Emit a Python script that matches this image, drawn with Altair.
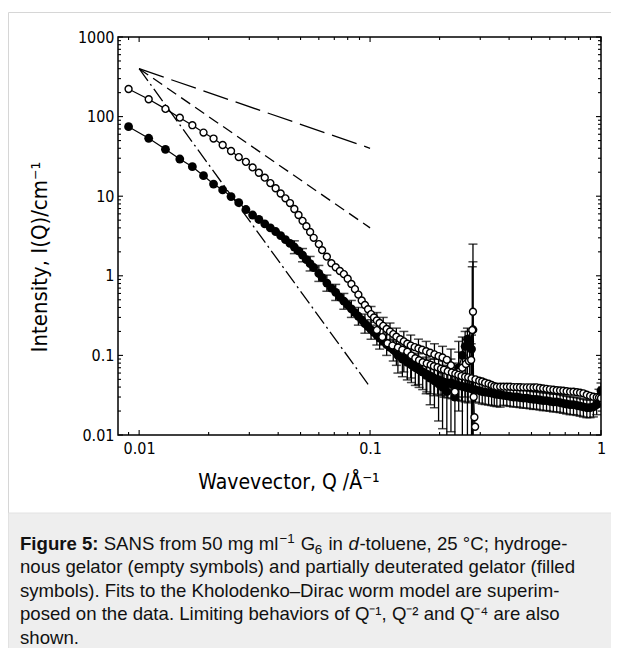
import altair as alt
import pandas as pd

# ---------------- data ----------------
# hydrogenous gelator, low-Q configuration (empty symbols)
open_lo_q = [0.009,0.011,0.013,0.015,0.017,0.019,0.021,0.023,0.025,0.027,
             0.029,0.031,0.033,0.035,0.037,0.039,0.041,0.043,0.045,0.047,
             0.049,0.051,0.053,0.055,0.057,0.060,0.062,0.065,0.068,0.071,
             0.074,0.077,0.080,0.083,0.086,0.089,0.092,0.095,0.098,0.101,
             0.104,0.107,0.110,0.114,0.118,0.122,0.126,0.130,0.135,0.140,
             0.145,0.150,0.156,0.162,0.168,0.175,0.182,0.190,0.198,0.206,
             0.215,0.224,0.233,0.242,0.251,0.260,0.268,0.274,0.277,0.279,
             0.281,0.283,0.285]
open_lo_i = [222,165,125,97,78,63,53,44,37,31,
             27,23,19.7,17.1,14.6,12.6,10.8,9.4,8.2,6.9,
             5.8,4.9,4.2,3.55,3.0,2.5,2.1,1.74,1.44,1.28,
             1.15,1.05,0.92,0.79,0.68,0.58,0.49,0.43,0.38,0.33,
             0.30,0.275,0.255,0.235,0.215,0.2,0.185,0.172,0.16,0.15,
             0.14,0.133,0.127,0.122,0.118,0.113,0.108,0.103,0.098,0.094,
             0.088,0.075,0.035,0.062,0.07,0.078,0.085,0.0875,0.208,0.354,
             0.03,0.0167,0.0127]
open_err_q = [0.101,0.107,0.114,0.122,0.130,0.140,0.150,0.162,0.175,0.190,0.206,
              0.224,0.242,0.260,0.274,0.277,0.279]
open_err_lo = [0.26,0.215,0.18,0.155,0.13,0.11,0.10,0.09,0.08,0.07,0.06,
               0.04,0.03,0.04,0.04,0.005,0.005]
open_err_hi = [0.41,0.345,0.30,0.255,0.22,0.20,0.18,0.16,0.15,0.14,0.13,
               0.12,0.11,0.13,0.14,1.3,2.5]

# hydrogenous gelator, high-Q configuration (empty symbols)
open_hi_q = [0.107,0.113,0.119,0.125,0.132,0.138,0.145,0.151,0.157,0.163,
             0.169,0.176,0.183,0.189,0.196,0.203,0.209,0.217,0.226,0.234,
             0.241,0.249,0.258,0.266,0.275,0.286,0.297,0.306,0.315,0.326,
             0.336,0.345,0.354,0.366,0.378,0.391,0.404,0.418,0.432,0.446,
             0.461,0.477,0.493,0.510,0.526,0.544,0.562,0.581,0.601,0.622,
             0.643,0.665,0.687,0.710,0.735,0.760,0.786,0.812,0.839,0.868,
             0.897,0.927,0.958,0.980,1.000]
open_hi_i = [0.208,0.170,0.142,0.133,0.126,0.118,0.111,0.100,0.092,0.087,
             0.082,0.079,0.076,0.073,0.071,0.068,0.066,0.063,0.061,0.059,
             0.057,0.055,0.054,0.053,0.0515,0.050,0.048,0.047,0.0454,0.044,
             0.0425,0.041,0.0405,0.0405,0.0405,0.0405,0.0405,0.040,0.040,0.0398,
             0.0397,0.0397,0.0397,0.0395,0.0397,0.039,0.0385,0.038,0.0375,0.037,
             0.0365,0.0362,0.036,0.0355,0.035,0.035,0.0345,0.034,0.0334,0.032,
             0.031,0.0303,0.0298,0.0295,0.029]

# partially deuterated gelator, low-Q configuration (filled symbols)
filled_lo_q = [0.009,0.011,0.013,0.015,0.017,0.019,0.021,0.023,0.025,0.027,
               0.029,0.031,0.033,0.035,0.037,0.039,0.041,0.043,0.045,0.047,
               0.049,0.051,0.053,0.055,0.057,0.060,0.062,0.065,0.068,0.071,
               0.074,0.077,0.080,0.083,0.086,0.089,0.092,0.095,0.098,0.101,
               0.104,0.107,0.110,0.114,0.118,0.122,0.126,0.130,0.135,0.140,
               0.145,0.150,0.156,0.162,0.168,0.175,0.182,0.190,0.198,0.206,
               0.215,0.224,0.233,0.242,0.251,0.258,0.264,0.270,0.275,0.279]
filled_lo_i = [74.7,53.4,38.8,29.3,23.5,18.1,14.2,12.0,9.9,8.3,
               6.8,5.8,5.1,4.5,4.0,3.6,3.2,2.85,2.55,2.3,
               2.05,1.82,1.6,1.42,1.27,1.07,0.95,0.81,0.70,0.62,
               0.54,0.48,0.43,0.385,0.345,0.31,0.28,0.25,0.23,0.21,
               0.195,0.18,0.165,0.15,0.137,0.126,0.117,0.108,0.099,0.092,
               0.086,0.08,0.074,0.068,0.062,0.056,0.052,0.048,0.044,0.040,
               0.035,0.045,0.030,0.070,0.10,0.13,0.16,0.15,0.12,0.21]
filled_err_q = [0.047,0.051,0.055,0.060,0.065,0.071,0.077,0.083,0.089,0.095,0.101,0.107,
                0.110,0.118,0.126,0.130,0.140,0.150,0.162,0.175,0.182,0.190,0.198,0.206,
                0.215,0.224,0.233,0.242,0.251,0.258,0.264,0.270,0.275,0.279]
filled_err_lo = [1.9,1.5,1.15,0.85,0.64,0.49,0.38,0.30,0.24,0.19,0.16,0.135,
                 0.12,0.10,0.085,0.075,0.062,0.052,0.043,0.033,0.024,0.022,0.015,0.012,
                 0.008,0.011,0.005,0.02,0.005,0.03,0.005,0.04,0.005,0.005]
filled_err_hi = [2.75,2.2,1.75,1.35,1.02,0.78,0.60,0.49,0.40,0.33,0.28,0.24,
                 0.22,0.19,0.16,0.15,0.13,0.12,0.105,0.095,0.09,0.09,0.09,0.085,
                 0.075,0.09,0.08,0.15,0.17,0.2,0.22,0.2,0.18,1.5]

# partially deuterated gelator, high-Q configuration (filled symbols)
filled_hi_q = [0.132,0.138,0.145,0.151,0.157,0.163,0.169,0.176,0.183,0.189,
               0.196,0.203,0.209,0.217,0.226,0.234,0.241,0.249,0.258,0.266,
               0.275,0.286,0.297,0.306,0.315,0.326,0.336,0.345,0.354,0.366,
               0.378,0.391,0.404,0.418,0.432,0.446,0.461,0.477,0.493,0.510,
               0.526,0.544,0.562,0.581,0.601,0.622,0.643,0.665,0.687,0.710,
               0.735,0.760,0.786,0.812,0.839,0.868,0.897,0.927,0.958,0.980,1.000]
filled_hi_i = [0.100,0.090,0.082,0.076,0.070,0.066,0.062,0.058,0.055,0.052,
               0.050,0.048,0.046,0.045,0.044,0.043,0.042,0.041,0.040,0.039,
               0.038,0.037,0.036,0.035,0.0345,0.034,0.0335,0.033,0.0325,0.032,
               0.0315,0.031,0.0305,0.030,0.030,0.0295,0.029,0.029,0.0285,0.028,
               0.028,0.0275,0.027,0.027,0.0265,0.026,0.026,0.0255,0.025,0.0245,
               0.024,0.024,0.0235,0.023,0.0225,0.022,0.022,0.0225,0.024,0.030,0.036]
filled_hi_err = [0.4,0.4,0.4,0.4,0.4,0.4,0.4,0.4,0.4,0.4,
                 0.35,0.35,0.35,0.35,0.35,0.35,0.35,0.35,0.35,0.35,
                 0.3,0.3,0.3,0.3,0.3,0.3,0.3,0.3,0.3,0.3,
                 0.25,0.25,0.25,0.25,0.25,0.25,0.25,0.25,0.25,0.25,
                 0.25,0.25,0.25,0.25,0.25,0.25,0.25,0.25,0.25,0.25,
                 0.25,0.25,0.25,0.25,0.25,0.25,0.25,0.25,0.25,0.25,0.25]

# limiting power laws Q^-1, Q^-2, Q^-4 (start / end points)
guide_q = [0.01, 0.1]
guide_q1 = [400, 40]
guide_q2 = [400, 4]
guide_q4 = [400, 0.04]

# axis ticks
x_major = [0.01, 0.1, 1]
x_minor = [0.009, 0.02, 0.03, 0.04, 0.05, 0.06, 0.07, 0.08, 0.09,
           0.2, 0.3, 0.4, 0.5, 0.6, 0.7, 0.8, 0.9]
y_major = [0.01, 0.1, 1, 10, 100, 1000]
y_minor = [m * 10.0 ** e for e in range(-2, 3) for m in range(2, 10)]

caption_lines = [
    "nous gelator (empty symbols) and partially deuterated gelator (filled",
    "symbols). Fits to the Kholodenko\u2013Dirac worm model are superim-",
    "posed on the data. Limiting behaviors of Q\u207b\u00b9, Q\u207b\u00b2 and Q\u207b\u2074 are also",
    "shown.",
]

# ---------------- layout ----------------
W, H = 483, 398          # plot area
OX, OY = 118, 37         # page position of plot origin
def px(x): return x - OX
def py(y): return y - OY

TF = "DejaVu Sans Condensed, Liberation Sans Narrow, DejaVu Sans"
CF = "Liberation Sans, Arial, sans-serif"
CS = 18.6       # caption font size
CX = 20         # caption left
B1 = 550        # first caption baseline
LS = 23.4       # caption line spacing
BAND = 513      # top of caption band

xs = alt.Scale(type="log", domain=[0.0081, 1.0], nice=False)
ys = alt.Scale(type="log", domain=[0.01, 1000.0], nice=False)
xaxis = alt.Axis(values=x_major, format="~g", title=None, grid=False, domain=False,
                 ticks=False, labelFont=TF, labelFontSize=16, labelColor="black",
                 labelPadding=5, labelFlush=False, labelOverlap=False, zindex=2)
yaxis = alt.Axis(values=y_major, format="~g", title=None, grid=False, domain=False,
                 ticks=False, labelFont=TF, labelFontSize=16, labelColor="black",
                 labelPadding=4, labelFlush=False, labelOverlap=False, zindex=2)

def X(f="q"): return alt.X(f"{f}:Q", scale=xs, axis=xaxis)
def Y(f="i"): return alt.Y(f"{f}:Q", scale=ys, axis=yaxis)

one = pd.DataFrame({"t": [""]})

def box(x1, x2, y1, y2, **kw):
    return alt.Chart(one).mark_rect(**kw).encode(
        x=alt.value(x1), x2=alt.value(x2), y=alt.value(y1), y2=alt.value(y2))

def text(s, x, y, **kw):
    return alt.Chart(pd.DataFrame({"t": [s]})).mark_text(**kw).encode(
        x=alt.value(x), y=alt.value(y), text="t:N")

layers = []
# card and caption band
layers.append(box(px(8.5), px(640), py(12.5), py(700), fill="white", stroke="#d6d6d6", strokeWidth=1))
layers.append(box(px(8.5), px(640), py(BAND), py(700), fill="#eeeeee", stroke="#e2e2e2", strokeWidth=1))

# ticks on all four sides
dfxM = pd.DataFrame({"q": x_major}); dfxm = pd.DataFrame({"q": x_minor})
dfyM = pd.DataFrame({"i": y_major}); dfym = pd.DataFrame({"i": y_minor})
for df, L in ((dfxM, 5), (dfxm, 3)):
    layers.append(alt.Chart(df).mark_rule(color="black", strokeWidth=1.1).encode(
        x=X(), y=alt.value(H), y2=alt.value(H - L)))
    layers.append(alt.Chart(df).mark_rule(color="black", strokeWidth=1.1).encode(
        x=X(), y=alt.value(0), y2=alt.value(L)))
for df, L in ((dfyM, 5), (dfym, 3)):
    layers.append(alt.Chart(df).mark_rule(color="black", strokeWidth=1.1).encode(
        y=Y(), x=alt.value(0), x2=alt.value(L)))
    layers.append(alt.Chart(df).mark_rule(color="black", strokeWidth=1.1).encode(
        y=Y(), x=alt.value(W), x2=alt.value(W - L)))

# guide lines
for vals, dash in ((guide_q1, [26, 8]), (guide_q2, [11, 6]), (guide_q4, [15, 4, 2, 4])):
    df = pd.DataFrame({"q": guide_q, "i": vals})
    layers.append(alt.Chart(df).mark_line(color="black", strokeWidth=1.3, strokeDash=dash).encode(
        x=X(), y=Y()))

# filled series
fh = pd.DataFrame({"q": filled_hi_q, "i": filled_hi_i, "e": filled_hi_err})
fh["lo"] = fh["i"] * (1 - fh["e"]); fh["hi"] = fh["i"] * (1 + fh["e"])
fe = pd.DataFrame({"q": filled_err_q, "lo": filled_err_lo, "hi": filled_err_hi})
fl = pd.DataFrame({"q": filled_lo_q, "i": filled_lo_i})
for df in (fh, fe):
    layers.append(alt.Chart(df).mark_rule(color="black", strokeWidth=1.3, clip=True).encode(
        x=X(), y=Y("lo"), y2="hi:Q"))
    for f in ("lo", "hi"):
        layers.append(alt.Chart(df).mark_tick(color="black", orient="horizontal", size=9,
                                              thickness=1.5, clip=True).encode(x=X(), y=Y(f)))
for df in (fl, fh):
    layers.append(alt.Chart(df).mark_line(color="black", strokeWidth=1.2, clip=True).encode(x=X(), y=Y()))
    layers.append(alt.Chart(df).mark_point(shape="circle", size=78, filled=True, color="black",
                                           opacity=1, clip=True).encode(x=X(), y=Y()))

# empty series
oe = pd.DataFrame({"q": open_err_q, "lo": open_err_lo, "hi": open_err_hi})
layers.append(alt.Chart(oe).mark_rule(color="black", strokeWidth=1.3, clip=True).encode(
    x=X(), y=Y("lo"), y2="hi:Q"))
for f in ("lo", "hi"):
    layers.append(alt.Chart(oe).mark_tick(color="black", orient="horizontal", size=9,
                                          thickness=1.5, clip=True).encode(x=X(), y=Y(f)))
for q, i in ((open_lo_q, open_lo_i), (open_hi_q, open_hi_i)):
    df = pd.DataFrame({"q": q, "i": i})
    layers.append(alt.Chart(df).mark_line(color="black", strokeWidth=1.2, clip=True).encode(x=X(), y=Y()))
    layers.append(alt.Chart(df).mark_point(shape="circle", size=48, filled=True, fill="white",
                                           stroke="black", strokeWidth=1.4, opacity=1,
                                           clip=True).encode(x=X(), y=Y()))

# frame
layers.append(box(0, W, 0, H, fillOpacity=0, stroke="black", strokeWidth=1.5))

# axis titles
layers.append(text("Intensity, I(Q)/cm\u207b\u00b9", px(40), py(257), font=TF, fontSize=22,
                   angle=270, align="center", baseline="middle", color="black"))
layers.append(text("Wavevector, Q /\u00c5\u207b\u00b9", px(289), py(489), font=TF, fontSize=21,
                   align="center", baseline="alphabetic", color="black"))

# caption, first line built from runs (bold / regular / superscript / subscript / italic)
c = CS
s = 0.72 * CS
sp = 0.278 * c
b1 = py(B1)
runs = []
x = CX
runs.append(("Figure 5:", x, b1, dict(fontSize=c, fontWeight="bold"))); x += 4.223 * c + sp
runs.append(("SANS from 50 mg ml", x, b1, dict(fontSize=c))); x += 9.391 * c + 1
runs.append(("\u22121", x, b1 - 0.36 * c, dict(fontSize=s))); x += 1.14 * s + sp + 1
runs.append(("G", x, b1, dict(fontSize=c))); x += 0.778 * c - 0.5
runs.append(("6", x, b1 + 0.2 * c, dict(fontSize=s))); x += 0.556 * s + sp + 1
runs.append(("in", x, b1, dict(fontSize=c))); x += 0.778 * c + sp + 0.5
runs.append(("d", x, b1, dict(fontSize=c, fontStyle="italic"))); x += 0.556 * c + 0.5
runs.append(("-toluene, 25 \u00b0C; hydroge-", x, b1, dict(fontSize=c)))
for s_, xx, yy, kw in runs:
    layers.append(text(s_, px(xx), yy, font=CF, align="left", baseline="alphabetic",
                       color="#111111", **kw))
for k, line in enumerate(caption_lines):
    layers.append(text(line, px(CX), py(B1 + LS * (k + 1)), font=CF, fontSize=CS,
                       align="left", baseline="alphabetic", color="#111111"))

chart = alt.layer(*layers).properties(
    width=W, height=H,
    padding={"left": OX - 8, "top": OY - 8, "right": 603 - (OX - 8) - W, "bottom": 640 - (OY - 8) - H},
    autosize=alt.AutoSizeParams(type="none"),
    background="white",
).configure_view(stroke=None)

chart.save("out.html", embed_options={"renderer": "svg", "actions": False})
